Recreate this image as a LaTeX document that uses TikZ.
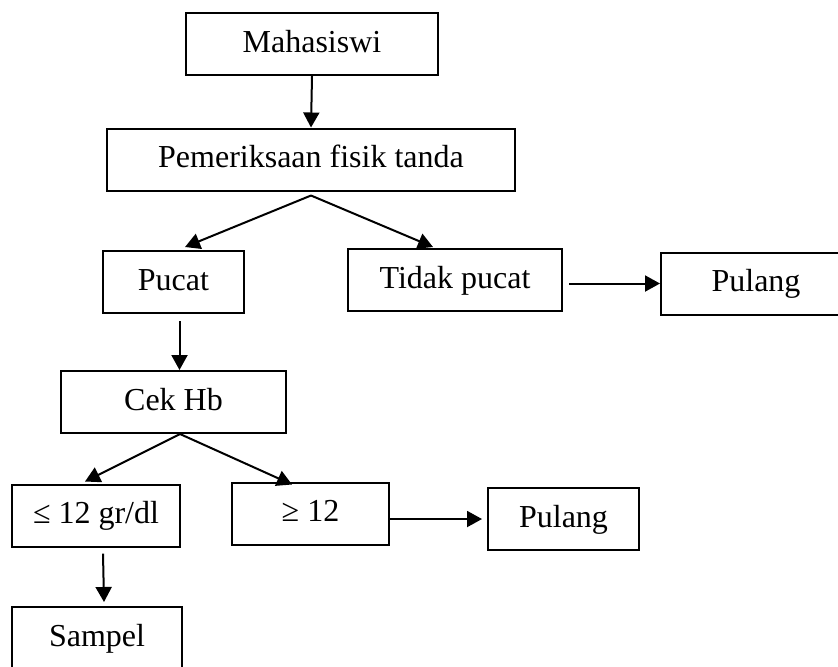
\documentclass[tikz,border=0pt]{standalone}
\usepackage{fontspec}
\setmainfont{Liberation Serif}
\usetikzlibrary{arrows.meta}

\tikzset{
  kotak/.style={draw, line width=1pt, inner sep=0pt, minimum height=31pt,
    text height=0.8em, text depth=0pt, font=\fontsize{16}{19}\selectfont},
  panah/.style={line width=1pt, -{Triangle[length=7.5pt,width=8pt]}}
}

\begin{document}
\begin{tikzpicture}[x=0.5pt,y=-0.5pt]
  \useasboundingbox (0,0) rectangle (838,666);
  % kotak-kotak
  \node[kotak,minimum width=126pt] (mhs) at (312,44) {Mahasiswi};
  \node[kotak,minimum width=204pt] (pem) at (311,159.5) {Pemeriksaan fisik tanda};
  \node[kotak,minimum width=70.5pt] (pucat) at (173.5,282) {Pucat};
  \node[kotak,minimum width=107pt] (tidak) at (455,280) {Tidak pucat};
  \node[kotak,minimum width=95pt] (pulang1) at (756,283.5) {Pulang};
  \node[kotak,minimum width=112.5pt] (cek) at (173.5,402) {Cek Hb};
  \node[kotak,minimum width=84pt] (le) at (96,515.5) {≤ 12 gr/dl};
  \node[kotak,minimum width=78.5pt] (ge) at (310.5,513.5) {≥ 12};
  \node[kotak,minimum width=75.5pt] (pulang2) at (563.5,519) {Pulang};
  \node[kotak,minimum width=85pt] (samp) at (97,638) {Sampel};
  % panah
  \draw[panah] (mhs.south) -- (pem.north);
  \draw[panah] ([yshift=-2pt]pem.south) -- ([xshift=5.75pt,yshift=1.5pt]pucat.north);
  \draw[panah] ([yshift=-2pt]pem.south) -- ([xshift=-11pt,yshift=0.5pt]tidak.north);
  \draw[panah] ([xshift=3pt,yshift=-3.5pt]pucat.south) -- ([xshift=3pt]cek.north);
  \draw[panah,shorten <=3pt] (tidak.east |- pulang1.west) -- (pulang1.west);
  \draw[panah] ([xshift=3.25pt]cek.south) -- ([xshift=-5.5pt,yshift=1pt]le.north);
  \draw[panah] ([xshift=3.25pt]cek.south) -- ([xshift=-9.25pt,yshift=-1.5pt]ge.north);
  \draw[panah,shorten >=2.5pt] (ge.east |- pulang2.west) -- (pulang2.west);
  \draw[panah] ([xshift=3.5pt,yshift=-3pt]le.south) -- ([xshift=3.5pt,yshift=2pt]samp.north);
\end{tikzpicture}
\end{document}
